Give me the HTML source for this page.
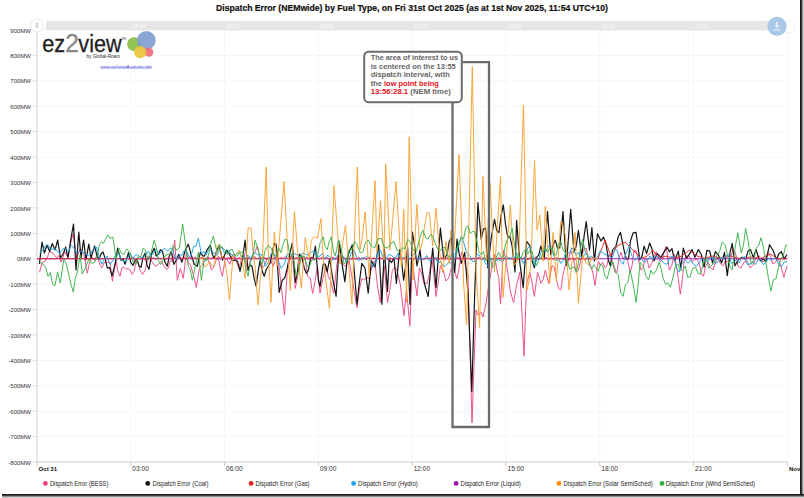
<!DOCTYPE html>
<html><head><meta charset="utf-8">
<style>
html,body{margin:0;padding:0;background:#fff;}
body{width:804px;height:498px;overflow:hidden;position:relative;font-family:"Liberation Sans",sans-serif;}
svg{position:absolute;left:0;top:0;}
text{font-family:"Liberation Sans",sans-serif;}
.yl{font-size:6.0px;fill:#333;}
.xl{font-size:6.6px;fill:#333;}
.xlb{font-size:6.1px;fill:#111;font-weight:bold;}
.ttl{font-size:8.6px;font-weight:bold;fill:#111;}
.lg{font-size:6.4px;fill:#222;}
.sb{font-size:5.5px;fill:#fafafa;}
.logo{font-size:21.7px;}
.byg{font-size:5.4px;fill:#2a2a2a;}
.lnk{font-size:4.35px;fill:#4a4adc;}
.ann{font-size:7.35px;font-weight:bold;fill:#666;}
</style></head><body>
<svg width="804" height="498" viewBox="0 0 804 498">
<rect width="804" height="498" fill="#fff"/>
<text x="216" y="11.2" class="ttl" stroke="#111" stroke-width="0.2" textLength="392" lengthAdjust="spacingAndGlyphs">Dispatch Error (NEMwide) by Fuel Type, on Fri 31st Oct 2025 (as at 1st Nov 2025, 11:54 UTC+10)</text>
<line x1="37.0" y1="462.0" x2="787.4" y2="462.0" stroke="#f7f7f7" stroke-width="1"/>
<line x1="37.0" y1="436.6" x2="787.4" y2="436.6" stroke="#f7f7f7" stroke-width="1"/>
<line x1="37.0" y1="411.2" x2="787.4" y2="411.2" stroke="#f7f7f7" stroke-width="1"/>
<line x1="37.0" y1="385.8" x2="787.4" y2="385.8" stroke="#f7f7f7" stroke-width="1"/>
<line x1="37.0" y1="360.3" x2="787.4" y2="360.3" stroke="#f7f7f7" stroke-width="1"/>
<line x1="37.0" y1="334.9" x2="787.4" y2="334.9" stroke="#f7f7f7" stroke-width="1"/>
<line x1="37.0" y1="309.5" x2="787.4" y2="309.5" stroke="#f7f7f7" stroke-width="1"/>
<line x1="37.0" y1="284.1" x2="787.4" y2="284.1" stroke="#f7f7f7" stroke-width="1"/>
<line x1="37.0" y1="258.7" x2="787.4" y2="258.7" stroke="#f7f7f7" stroke-width="1"/>
<line x1="37.0" y1="233.3" x2="787.4" y2="233.3" stroke="#f7f7f7" stroke-width="1"/>
<line x1="37.0" y1="207.9" x2="787.4" y2="207.9" stroke="#f7f7f7" stroke-width="1"/>
<line x1="37.0" y1="182.5" x2="787.4" y2="182.5" stroke="#f7f7f7" stroke-width="1"/>
<line x1="37.0" y1="157.1" x2="787.4" y2="157.1" stroke="#f7f7f7" stroke-width="1"/>
<line x1="37.0" y1="131.6" x2="787.4" y2="131.6" stroke="#f7f7f7" stroke-width="1"/>
<line x1="37.0" y1="106.2" x2="787.4" y2="106.2" stroke="#f7f7f7" stroke-width="1"/>
<line x1="37.0" y1="80.8" x2="787.4" y2="80.8" stroke="#f7f7f7" stroke-width="1"/>
<line x1="37.0" y1="55.4" x2="787.4" y2="55.4" stroke="#f7f7f7" stroke-width="1"/>
<line x1="37.0" y1="30.0" x2="787.4" y2="30.0" stroke="#f7f7f7" stroke-width="1"/>
<line x1="130.8" y1="30" x2="130.8" y2="462" stroke="#f7f7f7" stroke-width="1"/>
<line x1="224.6" y1="30" x2="224.6" y2="462" stroke="#f7f7f7" stroke-width="1"/>
<line x1="318.4" y1="30" x2="318.4" y2="462" stroke="#f7f7f7" stroke-width="1"/>
<line x1="412.2" y1="30" x2="412.2" y2="462" stroke="#f7f7f7" stroke-width="1"/>
<line x1="506.0" y1="30" x2="506.0" y2="462" stroke="#f7f7f7" stroke-width="1"/>
<line x1="599.8" y1="30" x2="599.8" y2="462" stroke="#f7f7f7" stroke-width="1"/>
<line x1="693.6" y1="30" x2="693.6" y2="462" stroke="#f7f7f7" stroke-width="1"/>
<line x1="787.4" y1="30" x2="787.4" y2="462" stroke="#f7f7f7" stroke-width="1"/>
<text x="31" y="464.6" text-anchor="end" class="yl">-800MW</text>
<line x1="32.5" y1="462.0" x2="37" y2="462.0" stroke="#ddd" stroke-width="1"/>
<text x="31" y="439.2" text-anchor="end" class="yl">-700MW</text>
<line x1="32.5" y1="436.6" x2="37" y2="436.6" stroke="#ddd" stroke-width="1"/>
<text x="31" y="413.8" text-anchor="end" class="yl">-600MW</text>
<line x1="32.5" y1="411.2" x2="37" y2="411.2" stroke="#ddd" stroke-width="1"/>
<text x="31" y="388.4" text-anchor="end" class="yl">-500MW</text>
<line x1="32.5" y1="385.8" x2="37" y2="385.8" stroke="#ddd" stroke-width="1"/>
<text x="31" y="362.9" text-anchor="end" class="yl">-400MW</text>
<line x1="32.5" y1="360.3" x2="37" y2="360.3" stroke="#ddd" stroke-width="1"/>
<text x="31" y="337.5" text-anchor="end" class="yl">-300MW</text>
<line x1="32.5" y1="334.9" x2="37" y2="334.9" stroke="#ddd" stroke-width="1"/>
<text x="31" y="312.1" text-anchor="end" class="yl">-200MW</text>
<line x1="32.5" y1="309.5" x2="37" y2="309.5" stroke="#ddd" stroke-width="1"/>
<text x="31" y="286.7" text-anchor="end" class="yl">-100MW</text>
<line x1="32.5" y1="284.1" x2="37" y2="284.1" stroke="#ddd" stroke-width="1"/>
<text x="31" y="261.3" text-anchor="end" class="yl">0MW</text>
<line x1="32.5" y1="258.7" x2="37" y2="258.7" stroke="#ddd" stroke-width="1"/>
<text x="31" y="235.9" text-anchor="end" class="yl">100MW</text>
<line x1="32.5" y1="233.3" x2="37" y2="233.3" stroke="#ddd" stroke-width="1"/>
<text x="31" y="210.5" text-anchor="end" class="yl">200MW</text>
<line x1="32.5" y1="207.9" x2="37" y2="207.9" stroke="#ddd" stroke-width="1"/>
<text x="31" y="185.1" text-anchor="end" class="yl">300MW</text>
<line x1="32.5" y1="182.5" x2="37" y2="182.5" stroke="#ddd" stroke-width="1"/>
<text x="31" y="159.7" text-anchor="end" class="yl">400MW</text>
<line x1="32.5" y1="157.1" x2="37" y2="157.1" stroke="#ddd" stroke-width="1"/>
<text x="31" y="134.2" text-anchor="end" class="yl">500MW</text>
<line x1="32.5" y1="131.6" x2="37" y2="131.6" stroke="#ddd" stroke-width="1"/>
<text x="31" y="108.8" text-anchor="end" class="yl">600MW</text>
<line x1="32.5" y1="106.2" x2="37" y2="106.2" stroke="#ddd" stroke-width="1"/>
<text x="31" y="83.4" text-anchor="end" class="yl">700MW</text>
<line x1="32.5" y1="80.8" x2="37" y2="80.8" stroke="#ddd" stroke-width="1"/>
<text x="31" y="58.0" text-anchor="end" class="yl">800MW</text>
<line x1="32.5" y1="55.4" x2="37" y2="55.4" stroke="#ddd" stroke-width="1"/>
<text x="31" y="32.6" text-anchor="end" class="yl">900MW</text>
<line x1="32.5" y1="30.0" x2="37" y2="30.0" stroke="#ddd" stroke-width="1"/>
<line x1="37.0" y1="30" x2="37.0" y2="462" stroke="#d8d8d8" stroke-width="1.2"/>
<line x1="37.0" y1="462" x2="787.4" y2="462" stroke="#cfcfcf" stroke-width="1.2"/>
<line x1="37.0" y1="462" x2="37.0" y2="466" stroke="#ccc" stroke-width="1"/>
<text x="38.5" y="470.6" class="xlb">Oct 31</text>
<line x1="130.8" y1="462" x2="130.8" y2="466" stroke="#ccc" stroke-width="1"/>
<text x="132.3" y="470.6" class="xl">03:00</text>
<line x1="224.6" y1="462" x2="224.6" y2="466" stroke="#ccc" stroke-width="1"/>
<text x="226.1" y="470.6" class="xl">06:00</text>
<line x1="318.4" y1="462" x2="318.4" y2="466" stroke="#ccc" stroke-width="1"/>
<text x="319.9" y="470.6" class="xl">09:00</text>
<line x1="412.2" y1="462" x2="412.2" y2="466" stroke="#ccc" stroke-width="1"/>
<text x="413.7" y="470.6" class="xl">12:00</text>
<line x1="506.0" y1="462" x2="506.0" y2="466" stroke="#ccc" stroke-width="1"/>
<text x="507.5" y="470.6" class="xl">15:00</text>
<line x1="599.8" y1="462" x2="599.8" y2="466" stroke="#ccc" stroke-width="1"/>
<text x="601.3" y="470.6" class="xl">18:00</text>
<line x1="693.6" y1="462" x2="693.6" y2="466" stroke="#ccc" stroke-width="1"/>
<text x="695.1" y="470.6" class="xl">21:00</text>
<line x1="787.4" y1="462" x2="787.4" y2="466" stroke="#ccc" stroke-width="1"/>
<text x="788.9" y="470.6" class="xlb">Nov</text>
<path d="M39.5,272.3 L42.2,262.3 L44.9,261.4 L47.1,258.2 L49.4,251.5 L53.0,253.3 L56.7,257.8 L59.0,255.6 L61.2,262.3 L64.8,251.5 L67.0,255.6 L69.3,251.5 L71.3,240.3 L73.3,233.5 L76.5,258.7 L80.1,248.8 L83.7,253.3 L87.3,273.2 L91.0,256.0 L94.6,260.5 L97.3,254.2 L99.5,264.1 L101.8,267.8 L104.5,262.1 L107.2,262.3 L110.0,262.2 L112.4,281.3 L116.0,260.2 L118.0,271.9 L120.0,276.3 L122.0,267.6 L124.0,267.3 L126.0,269.4 L128.0,268.3 L130.0,269.9 L132.0,274.3 L134.1,271.6 L136.1,260.2 L138.1,262.4 L140.1,270.3 L142.6,274.4 L145.1,270.3 L148.2,256.2 L150.2,257.9 L152.2,262.2 L155.2,266.2 L158.2,264.3 L161.2,261.3 L164.2,266.3 L166.2,269.4 L168.2,268.3 L170.2,260.5 L172.2,262.2 L174.7,240.2 L177.3,280.3 L180.3,268.3 L183.3,278.3 L186.3,252.2 L188.3,262.9 L190.3,264.3 L193.3,274.4 L196.3,287.3 L199.4,268.3 L201.9,265.6 L204.4,260.2 L206.9,257.9 L209.4,262.2 L211.4,270.0 L213.4,268.3 L215.9,260.6 L218.4,258.2 L220.4,269.3 L222.4,276.3 L225.0,260.2 L226.5,258.2 L230.0,264.3 L232.0,256.4 L234.0,254.2 L236.6,262.6 L239.1,268.3 L241.6,258.7 L244.1,253.2 L246.1,264.6 L248.1,270.3 L250.6,259.1 L253.1,254.2 L255.1,252.3 L257.1,246.2 L259.6,255.1 L262.1,268.3 L264.6,265.3 L267.2,258.2 L270.2,259.3 L273.2,266.3 L275.2,260.6 L277.2,250.2 L279.6,271.5 L282.1,294.0 L284.5,314.8 L287.2,272.3 L289.8,259.9 L292.3,254.2 L295.3,288.4 L297.8,276.0 L300.3,256.2 L302.8,256.3 L305.3,260.2 L307.7,276.3 L310.2,278.0 L312.6,293.6 L315.0,281.7 L317.4,266.3 L320.0,293.1 L323.2,277.0 L326.4,265.8 L328.4,276.9 L330.5,280.0 L333.7,293.1 L336.5,267.5 L339.3,249.7 L342.5,264.0 L345.7,266.4 L348.9,259.3 L351.6,274.9 L354.3,292.2 L357.0,307.6 L359.4,289.3 L361.8,278.6 L364.2,280.2 L366.6,277.0 L369.0,279.0 L371.9,266.5 L374.7,260.9 L377.5,286.4 L380.3,302.7 L382.3,279.8 L384.3,265.8 L387.5,302.7 L389.9,289.8 L392.3,270.6 L394.8,267.1 L397.2,270.6 L400.4,285.0 L403.9,315.7 L406.5,290.0 L409.9,326.1 L412.4,260.9 L414.7,279.8 L417.0,296.0 L419.4,267.8 L421.6,273.4 L423.8,283.3 L427.1,283.3 L429.4,274.3 L431.6,256.8 L433.8,273.8 L436.0,296.5 L438.2,282.9 L440.4,265.6 L443.1,270.0 L445.9,281.1 L448.6,278.3 L451.4,267.8 L454.1,269.6 L456.9,278.9 L459.1,268.3 L461.4,252.4 L463.6,257.2 L465.8,267.8 L468.0,275.0 L470.0,349.4 L472.0,422.8 L474.0,365.7 L476.0,310.0 L478.3,315.5 L480.7,311.9 L483.0,317.0 L486.0,303.2 L489.0,283.3 L491.8,267.6 L494.5,254.6 L496.7,268.2 L498.9,278.9 L500.5,304.0 L503.3,250.2 L505.5,257.4 L507.7,272.3 L510.6,292.4 L513.6,302.6 L516.8,284.0 L519.9,272.3 L522.0,314.7 L524.0,356.2 L526.6,283.3 L529.9,272.3 L532.1,282.5 L534.3,296.5 L537.6,272.3 L540.9,283.3 L543.1,279.8 L545.3,270.0 L548.6,283.3 L552.0,265.6 L554.2,267.3 L556.4,278.9 L558.6,288.6 L560.8,290.0 L563.0,274.5 L565.2,265.6 L568.0,262.3 L570.7,250.0 L573.5,259.0 L576.2,272.3 L578.4,269.9 L580.6,261.2 L583.4,249.8 L586.2,248.0 L588.4,260.2 L590.6,265.6 L592.8,272.6 L595.0,285.5 L598.3,261.2 L600.5,265.7 L602.7,262.3 L604.9,267.8 L607.0,265.8 L609.0,254.2 L611.0,257.9 L613.0,264.2 L615.0,272.4 L617.0,272.2 L619.0,257.9 L621.0,252.2 L623.0,258.8 L625.1,256.2 L627.6,260.2 L630.1,272.2 L632.1,265.5 L634.1,250.2 L636.1,251.0 L638.1,258.2 L641.1,270.2 L643.2,267.6 L645.2,258.2 L647.2,260.4 L649.2,268.2 L651.7,263.7 L654.2,256.2 L656.2,251.7 L658.2,256.2 L660.2,261.6 L662.2,260.2 L664.2,251.2 L666.2,246.1 L669.3,270.2 L671.8,265.3 L674.3,254.2 L677.3,271.2 L680.3,294.3 L682.3,279.8 L684.3,260.2 L686.8,255.7 L689.3,256.2 L691.8,261.5 L694.4,260.2 L696.9,258.6 L699.4,264.2 L701.4,273.8 L703.4,276.3 L705.7,266.2 L708.0,262.0 L710.5,267.4 L713.0,270.0 L715.5,261.9 L718.0,258.0 L720.5,263.9 L723.0,266.0 L725.5,260.6 L728.0,262.0 L730.5,259.8 L733.0,248.6 L735.5,253.1 L738.0,266.0 L741.0,268.2 L744.0,262.0 L747.0,260.7 L750.0,268.0 L753.0,265.2 L756.0,258.0 L759.0,255.6 L762.0,262.0 L765.0,260.8 L768.0,252.0 L770.5,256.4 L773.0,264.0 L775.5,262.3 L778.0,258.0 L781.0,266.3 L783.9,277.3 L787.0,266.0" fill="none" stroke="#ee4a86" stroke-width="0.95" stroke-linejoin="round"/>
<path d="M39.4,264.0 L42.0,242.0 L44.4,253.0 L47.0,245.0 L49.7,251.5 L52.3,243.5 L55.0,250.0 L57.7,240.0 L60.5,258.0 L63.1,254.0 L65.7,247.0 L68.0,258.0 L70.8,239.4 L73.5,224.0 L76.0,270.0 L78.8,232.0 L81.0,258.0 L83.6,240.0 L86.0,260.0 L88.8,244.0 L91.0,258.0 L94.6,246.0 L97.0,256.0 L99.0,259.4 L101.0,254.0 L103.0,252.0 L105.0,258.0 L107.3,267.8 L109.7,267.6 L112.0,276.0 L114.8,265.6 L117.6,248.2 L121.0,260.2 L123.0,258.7 L125.0,264.3 L128.5,252.6 L130.8,262.4 L133.0,265.3 L135.0,260.4 L137.0,259.2 L139.0,266.1 L141.0,267.3 L143.0,257.5 L145.0,253.2 L147.0,265.2 L149.0,269.3 L151.6,253.8 L154.2,248.2 L156.2,256.0 L158.2,254.2 L160.4,249.7 L162.6,251.8 L164.9,262.0 L167.2,266.3 L169.2,256.5 L171.2,251.2 L173.9,264.3 L176.3,260.2 L178.7,254.2 L181.9,262.2 L185.3,250.2 L188.3,244.2 L191.3,255.2 L194.3,264.3 L197.3,266.3 L200.4,252.2 L202.4,255.6 L204.4,256.2 L207.4,249.3 L210.4,245.2 L212.4,254.7 L214.4,258.2 L216.9,249.8 L219.4,246.2 L222.4,260.2 L225.0,254.2 L226.5,250.2 L230.0,255.2 L232.5,260.4 L235.0,260.2 L237.5,261.2 L240.0,271.3 L242.6,259.0 L245.1,240.2 L248.1,270.3 L250.1,264.9 L252.1,266.3 L254.1,278.4 L256.1,286.3 L258.1,271.9 L260.1,260.2 L262.1,270.7 L264.2,276.3 L266.2,269.5 L268.2,266.3 L270.2,262.9 L272.2,253.2 L274.2,243.7 L276.2,244.2 L279.2,292.4 L282.2,280.3 L284.7,278.1 L287.2,268.3 L289.8,253.8 L292.3,243.2 L295.3,282.3 L297.3,272.9 L299.3,254.2 L301.8,257.0 L304.3,268.3 L306.3,273.3 L308.3,270.3 L310.7,257.6 L313.0,258.3 L315.4,246.2 L318.4,280.3 L320.0,286.7 L323.2,264.2 L325.2,264.0 L327.2,272.2 L329.6,258.5 L333.0,280.0 L336.1,296.3 L339.3,241.6 L342.1,264.3 L344.9,281.8 L346.9,262.4 L348.9,252.9 L352.2,244.9 L354.6,275.4 L357.0,304.3 L359.4,282.0 L361.8,263.4 L365.0,268.0 L368.2,293.1 L371.4,260.9 L375.0,267.0 L378.7,244.9 L381.9,304.3 L384.3,248.1 L387.5,291.5 L389.1,259.3 L391.6,262.6 L394.0,257.7 L396.4,283.4 L399.6,249.7 L401.6,261.0 L403.6,280.2 L405.6,266.7 L407.6,247.3 L410.0,304.3 L412.4,232.0 L414.7,245.8 L417.0,266.0 L420.0,250.0 L422.4,270.8 L424.9,285.5 L428.2,296.5 L430.4,271.5 L432.7,248.0 L436.0,287.7 L438.2,258.4 L440.4,228.1 L443.7,259.0 L447.1,254.6 L449.2,241.4 L451.4,237.0 L454.7,272.3 L457.0,239.2 L459.2,253.9 L461.4,263.4 L464.7,252.4 L468.0,293.5 L471.8,391.4 L474.5,300.0 L477.9,202.7 L481.2,239.2 L483.4,229.1 L485.6,228.1 L487.8,267.8 L491.2,238.0 L494.5,219.3 L496.7,230.5 L498.9,232.5 L501.1,215.7 L503.3,204.9 L505.5,224.3 L507.7,237.0 L509.9,236.7 L512.1,245.8 L515.0,272.0 L516.6,220.4 L519.9,263.4 L523.2,287.7 L526.6,241.4 L529.9,245.8 L532.1,260.8 L534.3,267.8 L536.5,257.4 L538.7,255.2 L540.9,245.8 L544.2,259.0 L547.5,211.6 L550.8,254.6 L553.0,245.0 L555.3,240.3 L557.5,248.0 L559.7,248.0 L563.0,211.6 L566.3,265.6 L568.5,237.2 L570.7,209.3 L574.0,252.4 L576.2,246.0 L578.4,230.3 L581.7,256.8 L584.0,236.9 L586.2,221.5 L589.5,250.2 L591.9,227.5 L594.4,261.0 L597.5,233.7 L601.0,241.0 L603.5,237.0 L606.2,244.9 L608.4,260.1 L610.5,266.0 L612.4,250.5 L616.0,246.0 L618.2,236.8 L620.5,232.4 L624.0,250.0 L626.3,259.1 L628.6,258.6 L630.4,241.0 L633.2,232.8 L636.0,232.4 L639.8,259.8 L642.0,256.1 L644.1,246.1 L646.6,253.6 L649.7,243.0 L651.9,248.8 L654.0,261.0 L657.2,253.6 L660.9,257.3 L664.6,251.1 L667.1,247.4 L669.5,251.7 L672.0,248.6 L674.6,261.0 L678.3,251.1 L680.8,268.5 L683.3,248.0 L686.4,258.6 L690.0,253.1 L692.1,249.6 L694.9,257.3 L698.4,249.6 L701.3,254.5 L704.1,267.2 L706.9,250.3 L709.7,251.0 L712.5,263.0 L715.3,251.7 L718.1,254.5 L721.6,263.0 L724.5,252.4 L727.3,275.6 L730.1,252.4 L732.2,243.3 L735.0,265.8 L738.5,259.5 L742.0,257.3 L745.6,259.5 L748.0,251.1 L750.5,249.6 L753.3,257.3 L756.1,249.6 L758.9,258.8 L761.0,261.2 L763.1,258.8 L766.0,261.6 L769.5,244.7 L773.0,250.3 L776.5,259.5 L779.0,253.6 L781.4,251.7 L784.2,258.8 L787.0,254.5" fill="none" stroke="#151515" stroke-width="1.2" stroke-linejoin="round"/>
<path d="M37.0,258.7 L787.4,258.7" fill="none" stroke="#9a1fb0" stroke-width="1.1" stroke-linejoin="round"/>
<path d="M37.0,258.7 L39.6,258.8 L42.2,258.6 L44.8,258.8 L47.3,258.6 L49.9,258.8 L52.5,258.6 L55.1,258.8 L57.7,258.5 L60.2,258.8 L62.8,258.6 L65.4,258.9 L68.0,258.6 L70.6,258.9 L73.2,258.6 L75.8,258.8 L78.3,258.6 L80.9,258.8 L83.5,258.5 L86.1,258.8 L88.7,258.5 L91.2,258.9 L93.8,258.6 L96.4,258.9 L99.0,258.6 L101.6,258.8 L104.2,258.6 L106.8,258.9 L109.3,258.6 L111.9,258.9 L114.5,258.5 L117.1,258.9 L119.7,258.5 L122.2,258.8 L124.8,258.5 L127.4,258.8 L130.0,258.7 L132.6,257.2 L135.2,260.1 L137.8,258.1 L140.4,259.2 L143.0,257.9 L145.6,260.1 L148.1,257.6 L150.7,259.6 L153.3,257.7 L155.9,259.4 L158.5,257.6 L161.1,259.2 L163.7,257.3 L166.3,259.4 L168.9,256.8 L171.5,259.5 L174.1,256.7 L176.7,259.7 L179.3,256.6 L181.9,259.4 L184.4,257.6 L187.0,259.6 L189.6,256.5 L192.2,259.6 L194.8,257.0 L197.4,259.3 L200.0,258.0 L202.6,257.4 L205.2,259.4 L207.8,256.9 L210.4,258.8 L213.0,257.5 L215.6,259.5 L218.2,256.4 L220.8,258.5 L223.4,256.7 L226.0,258.9 L228.6,257.5 L231.2,258.8 L233.8,256.7 L236.4,259.5 L239.0,257.6 L241.6,259.2 L244.2,257.6 L246.8,259.3 L249.4,257.3 L252.0,259.5 L254.6,256.5 L257.2,259.1 L259.8,256.5 L262.4,258.9 L265.0,257.6 L267.6,259.2 L270.2,257.7 L272.8,258.8 L275.4,257.2 L278.0,259.3 L280.6,257.6 L283.2,258.6 L285.8,256.7 L288.4,258.9 L291.0,256.6 L293.6,259.6 L296.2,257.3 L298.8,259.1 L301.5,257.2 L304.1,259.4 L306.7,257.1 L309.3,259.3 L311.9,257.1 L314.5,259.7 L317.1,257.2 L319.7,259.1 L322.3,257.0 L324.9,258.9 L327.5,257.5 L330.1,259.8 L332.7,257.2 L335.3,259.3 L337.9,257.8 L340.5,259.1 L343.1,257.2 L345.7,258.7 L348.3,257.1 L350.9,259.4 L353.5,257.8 L356.1,259.4 L358.7,257.3 L361.3,259.5 L363.9,257.5 L366.5,259.5 L369.1,257.0 L371.7,258.7 L374.3,257.8 L376.9,259.5 L379.5,256.8 L382.1,259.0 L384.7,257.4 L387.3,259.4 L389.9,257.5 L392.5,259.2 L395.1,257.6 L397.7,259.2 L400.3,257.2 L402.9,259.1 L405.5,257.5 L408.1,259.7 L410.7,257.9 L413.3,259.5 L415.9,257.1 L418.5,259.2 L421.1,257.7 L423.7,259.8 L426.3,257.7 L428.9,259.0 L431.5,257.5 L434.1,259.6 L436.7,257.9 L439.3,259.2 L441.9,257.6 L444.5,259.8 L447.1,257.5 L449.7,259.9 L452.3,257.8 L454.9,259.3 L457.5,257.3 L460.1,259.9 L462.7,257.5 L465.3,259.1 L467.9,257.9 L470.5,259.5 L473.1,257.9 L475.7,259.9 L478.3,257.1 L480.9,259.1 L483.5,257.8 L486.1,259.9 L488.7,257.3 L491.3,259.9 L493.9,257.7 L496.5,259.1 L499.2,257.8 L501.8,259.9 L504.4,257.8 L507.0,259.4 L509.6,257.6 L512.2,259.5 L514.8,257.7 L517.4,260.1 L520.0,258.0 L522.6,259.0 L525.2,257.0 L527.8,260.0 L530.4,257.0 L533.0,259.5 L535.6,257.1 L538.2,260.1 L540.8,257.9 L543.4,259.9 L546.0,257.2 L548.6,259.8 L551.2,257.6 L553.8,259.4 L556.4,257.8 L559.0,259.3 L561.6,258.2 L564.2,259.7 L566.8,257.9 L569.4,260.0 L572.0,258.2 L574.6,260.1 L577.2,257.4 L579.8,260.2 L582.4,257.2 L585.0,260.2 L587.6,257.6 L590.2,259.1 L592.8,257.4 L595.4,259.3 L598.0,258.7 L600.3,252.4 L602.7,246.4 L605.0,240.1 L608.0,248.0 L611.0,256.2 L614.0,251.3 L617.0,246.1 L619.7,244.6 L622.4,243.6 L625.1,242.1 L628.1,245.0 L631.1,248.2 L633.1,250.3 L635.1,252.2 L638.1,255.0 L641.1,258.2 L644.2,257.3 L647.2,256.2 L650.2,253.0 L653.2,250.2 L655.7,254.3 L658.2,258.2 L660.5,257.5 L662.9,257.0 L665.2,256.2 L667.9,256.7 L670.6,257.6 L673.3,258.2 L676.0,257.4 L678.6,257.1 L681.3,256.2 L684.0,254.0 L686.6,252.4 L689.3,250.2 L692.0,252.1 L694.7,254.3 L697.4,256.2 L699.9,256.7 L702.5,257.6 L705.0,258.2 L707.7,257.4 L710.3,256.8 L713.0,256.0 L715.7,256.8 L718.3,257.9 L721.0,258.7 L724.0,257.7 L727.0,257.1 L730.0,256.0 L732.5,256.6 L735.0,257.4 L737.5,258.0 L740.0,258.7 L742.5,258.3 L745.0,257.8 L747.5,257.6 L750.0,257.0 L752.5,257.2 L755.0,257.9 L757.5,258.1 L760.0,258.7 L762.5,257.6 L765.0,256.3 L767.5,255.3 L770.0,254.0 L772.7,255.4 L775.3,257.3 L778.0,258.7 L781.0,258.6 L784.0,258.8 L787.0,258.7" fill="none" stroke="#e52525" stroke-width="0.95" stroke-linejoin="round"/>
<path d="M39.5,253.3 L42.6,250.7 L45.8,245.2 L48.2,245.3 L50.6,249.5 L53.0,248.8 L55.4,248.7 L57.9,252.2 L60.3,252.4 L63.0,248.7 L65.7,248.8 L68.4,251.8 L71.1,245.2 L73.8,247.9 L76.5,252.6 L79.2,251.5 L82.3,251.4 L85.5,254.2 L88.2,256.0 L91.0,253.3 L93.7,248.5 L96.4,247.0 L99.1,256.9 L101.8,264.2 L104.5,258.9 L107.2,256.0 L110.0,264.3 L113.0,260.7 L116.0,254.2 L119.0,253.9 L122.0,260.2 L125.0,261.8 L128.0,257.2 L130.4,253.5 L132.7,258.8 L135.1,255.2 L137.6,254.8 L140.1,257.2 L143.1,257.4 L146.1,254.2 L148.5,251.3 L150.8,256.3 L153.2,253.2 L156.2,249.1 L159.2,254.4 L162.2,250.2 L164.9,248.4 L167.5,251.3 L170.2,248.2 L172.6,249.2 L174.9,257.7 L177.3,259.2 L179.6,254.9 L182.0,255.3 L184.3,250.2 L186.6,250.8 L189.0,256.9 L191.3,255.2 L193.7,246.4 L196.0,246.2 L198.4,238.2 L201.4,254.2 L203.7,251.2 L206.1,254.8 L208.4,250.2 L211.4,249.8 L214.4,254.2 L216.9,255.4 L219.4,250.2 L221.8,247.1 L224.1,252.4 L226.5,250.2 L228.8,250.2 L231.0,254.2 L234.0,256.1 L237.0,253.2 L239.7,252.9 L242.4,257.8 L245.1,258.2 L247.8,255.2 L250.4,258.5 L253.1,254.2 L255.8,253.2 L258.4,255.2 L261.1,254.2 L263.1,257.7 L265.2,266.3 L267.9,263.2 L270.5,254.6 L273.2,252.2 L275.9,259.7 L278.5,261.2 L281.2,268.3 L284.2,264.7 L287.2,254.2 L289.7,253.1 L292.2,256.7 L294.8,253.5 L297.3,255.2 L300.0,257.4 L302.6,252.9 L305.3,254.2 L308.3,255.0 L311.3,252.2 L314.2,250.7 L317.1,256.5 L320.0,256.1 L322.4,253.5 L324.8,258.8 L327.2,255.3 L330.0,256.6 L332.9,260.1 L336.1,257.5 L339.3,252.9 L342.5,255.4 L345.7,260.9 L348.7,260.6 L351.6,252.0 L354.6,251.3 L356.6,257.6 L358.6,260.9 L361.3,257.6 L363.9,259.0 L366.6,256.1 L369.8,259.7 L373.0,267.4 L375.4,262.5 L377.9,252.9 L380.3,249.7 L383.1,257.7 L385.9,259.3 L389.1,254.3 L392.3,256.1 L395.1,259.3 L398.0,253.5 L400.8,258.2 L403.6,257.7 L406.5,255.3 L409.5,259.5 L412.4,255.3 L414.9,253.2 L417.5,258.9 L420.0,257.7 L423.8,259.0 L426.8,255.6 L429.7,261.5 L432.7,259.0 L435.3,257.3 L438.0,263.3 L440.6,261.6 L443.3,266.3 L445.9,265.6 L448.8,262.2 L451.8,263.1 L454.7,259.0 L456.9,247.9 L459.2,245.3 L461.4,235.8 L463.6,242.1 L465.8,250.2 L468.0,254.9 L470.2,256.2 L472.4,261.2 L474.6,261.9 L476.8,255.0 L479.0,254.6 L481.2,259.2 L483.4,259.3 L485.6,263.4 L487.8,265.4 L490.1,258.5 L492.3,259.0 L495.2,261.2 L498.2,259.4 L501.1,261.2 L503.3,260.8 L505.5,256.9 L507.7,256.8 L510.1,259.9 L512.6,256.3 L515.0,258.0 L516.6,252.4 L518.8,257.0 L521.0,257.6 L523.2,263.4 L525.4,259.1 L527.7,248.2 L529.9,245.8 L532.1,256.9 L534.3,265.6 L536.5,258.9 L538.7,259.7 L540.9,252.4 L543.5,248.3 L546.0,251.5 L548.6,245.8 L551.4,249.2 L554.2,256.8 L556.4,260.5 L558.6,259.2 L560.8,263.4 L563.0,260.7 L565.2,254.1 L567.4,252.4 L569.6,253.2 L571.8,247.7 L574.0,250.2 L576.2,255.5 L578.4,252.4 L580.6,256.8 L582.8,257.0 L585.1,253.8 L587.3,254.6 L589.5,257.6 L591.7,256.1 L593.9,259.0 L596.8,258.3 L599.8,251.4 L602.7,252.4 L605.1,255.1 L607.6,254.3 L610.0,256.8 L612.3,257.9 L614.7,250.0 L617.0,250.2 L620.0,260.7 L623.1,264.2 L626.1,253.2 L629.1,246.1 L632.1,256.4 L635.1,260.2 L638.1,256.6 L641.1,258.2 L644.2,262.2 L647.2,260.2 L649.9,256.0 L652.5,259.7 L655.2,256.2 L658.2,257.1 L661.2,260.2 L664.2,263.6 L667.2,264.2 L670.2,257.0 L673.3,256.2 L676.3,267.4 L679.3,272.2 L682.3,262.9 L685.3,260.2 L688.0,263.3 L690.7,260.3 L693.4,264.2 L696.4,266.2 L699.4,262.2 L702.2,258.5 L705.0,260.0 L707.5,262.0 L710.0,258.0 L712.7,257.1 L715.3,263.3 L718.0,262.0 L720.7,257.3 L723.3,259.6 L726.0,256.0 L728.7,254.7 L731.3,263.4 L734.0,262.0 L736.7,259.6 L739.3,262.8 L742.0,258.0 L744.7,256.6 L747.3,264.6 L750.0,264.0 L752.7,261.7 L755.3,264.6 L758.0,260.0 L760.7,259.5 L763.3,264.8 L766.0,262.0 L768.7,258.0 L771.3,260.4 L774.0,258.0 L776.7,259.4 L779.3,265.9 L782.0,266.0 L784.5,261.6 L787.0,262.0" fill="none" stroke="#1fa3e3" stroke-width="0.95" stroke-linejoin="round"/>
<path d="M199.0,258.7 L202.4,258.2 L204.4,266.6 L206.4,266.3 L209.4,261.5 L212.4,266.3 L214.7,264.0 L217.1,245.8 L219.4,244.2 L221.9,257.0 L224.5,260.2 L227.0,274.4 L229.5,299.9 L233.0,256.2 L236.1,254.8 L239.1,250.2 L242.1,260.7 L245.1,278.3 L248.1,228.1 L251.1,228.1 L253.1,252.9 L255.1,266.3 L258.0,304.8 L260.1,281.1 L262.1,266.3 L264.1,217.4 L266.2,167.0 L268.2,250.2 L271.0,302.3 L274.3,232.0 L277.2,266.3 L279.5,237.8 L281.7,210.3 L284.0,181.6 L287.2,240.2 L290.3,290.4 L292.4,250.7 L294.4,211.6 L296.4,236.4 L298.3,260.2 L301.3,288.4 L303.3,262.5 L305.3,237.6 L307.3,249.5 L309.3,258.2 L311.3,240.2 L314.4,236.7 L317.4,238.2 L321.0,218.5 L323.4,260.2 L326.4,284.8 L329.5,308.6 L331.8,246.4 L334.0,185.7 L337.0,225.5 L340.0,264.0 L342.8,242.3 L345.5,225.0 L348.7,265.0 L351.9,303.6 L354.6,235.0 L357.3,167.0 L360.0,250.0 L362.6,235.3 L365.2,212.0 L367.2,243.9 L369.2,276.3 L372.1,228.7 L375.0,180.7 L377.0,252.0 L380.5,200.7 L384.0,260.0 L385.7,163.8 L387.9,206.2 L390.0,250.0 L393.0,216.1 L396.0,181.6 L398.6,223.6 L401.3,266.3 L403.7,209.3 L406.6,302.3 L409.2,136.8 L413.0,280.0 L416.8,204.4 L420.0,250.0 L422.4,242.8 L424.9,223.7 L427.1,212.8 L429.3,212.7 L432.7,245.8 L436.0,208.2 L439.3,250.2 L442.6,272.3 L445.9,241.4 L449.2,263.4 L451.0,230.0 L454.0,250.0 L456.5,202.7 L459.0,154.6 L461.3,218.2 L463.6,283.3 L466.6,324.8 L469.5,196.2 L472.3,66.5 L476.0,270.0 L479.6,327.4 L483.0,176.5 L486.5,260.0 L490.0,183.0 L492.2,226.9 L494.5,272.0 L497.5,224.6 L500.5,176.5 L503.0,297.4 L506.0,262.0 L508.2,232.7 L510.4,205.0 L514.0,265.0 L516.5,262.1 L519.0,250.0 L521.2,176.7 L523.5,105.0 L527.0,290.0 L529.0,281.1 L531.0,261.2 L534.5,160.6 L537.0,230.0 L539.8,214.9 L543.1,261.2 L545.3,206.0 L547.5,244.3 L549.7,283.3 L553.0,232.5 L556.4,281.1 L558.6,251.7 L560.8,221.5 L563.0,225.9 L565.2,234.7 L569.0,290.0 L572.0,261.5 L575.1,232.5 L578.4,303.2 L580.6,278.7 L582.8,254.6 L585.9,262.7 L589.0,265.0 L592.0,257.6 L595.0,258.7 L598.0,258.7" fill="none" stroke="#f8a133" stroke-width="0.95" stroke-linejoin="round"/>
<path d="M39.5,262.3 L43.0,264.0 L45.8,267.8 L48.1,276.5 L50.3,272.5 L52.6,284.4 L54.9,285.8 L57.6,272.0 L60.3,283.0 L63.9,258.7 L66.2,263.6 L68.4,273.0 L70.8,283.8 L73.3,292.0 L75.3,278.3 L77.4,272.0 L80.1,255.0 L82.3,274.0 L85.5,267.8 L89.0,258.7 L91.8,263.5 L94.6,262.3 L97.3,256.0 L99.3,244.7 L101.4,241.6 L103.4,243.3 L105.4,239.8 L107.7,234.9 L110.0,238.2 L113.0,237.2 L116.0,259.2 L119.0,248.2 L121.5,253.5 L124.0,254.2 L127.0,248.9 L130.0,252.2 L133.1,262.2 L136.1,264.3 L138.4,256.1 L140.8,256.8 L143.1,248.2 L145.6,250.4 L148.2,260.2 L151.2,252.2 L154.2,240.2 L156.2,246.9 L158.2,260.2 L160.7,264.5 L163.2,260.2 L165.7,255.0 L168.2,254.2 L170.8,254.0 L173.3,245.2 L176.3,250.2 L179.3,248.2 L182.7,224.1 L185.9,247.2 L188.3,266.3 L190.3,269.5 L192.3,280.3 L195.3,266.3 L198.4,252.2 L201.4,280.3 L204.4,258.2 L206.4,261.1 L208.4,255.2 L210.9,243.1 L213.4,236.1 L215.4,245.7 L217.4,252.2 L219.4,244.9 L221.4,246.2 L225.0,250.2 L227.5,254.5 L230.0,250.2 L232.3,249.3 L234.7,255.8 L237.0,256.2 L240.1,252.2 L243.1,252.2 L245.6,267.9 L248.1,276.3 L250.4,261.9 L252.8,257.1 L255.1,240.2 L258.1,248.8 L261.1,264.3 L263.1,259.3 L265.2,250.2 L268.2,245.5 L271.2,248.2 L273.7,254.8 L276.2,256.2 L278.5,247.5 L280.9,252.9 L283.2,244.2 L285.2,239.0 L287.2,240.2 L289.2,250.9 L291.3,254.2 L293.8,261.4 L296.3,276.3 L298.8,270.5 L301.3,256.2 L304.3,256.3 L307.3,266.3 L309.7,265.6 L312.0,259.6 L314.4,260.2 L317.3,255.9 L320.3,242.2 L323.2,236.8 L325.2,246.7 L327.2,249.7 L329.2,241.7 L331.3,236.8 L333.3,251.0 L335.3,256.1 L338.5,240.0 L341.2,248.8 L344.0,264.0 L346.6,260.1 L349.3,249.1 L352.0,249.6 L354.6,241.6 L357.4,245.3 L360.2,252.9 L362.9,251.7 L365.5,242.5 L368.2,240.0 L371.4,246.1 L374.7,248.1 L377.9,238.8 L381.1,238.4 L384.3,247.1 L387.5,248.1 L390.8,243.6 L394.0,241.6 L397.2,250.6 L400.4,251.3 L402.8,247.6 L405.2,248.9 L407.6,239.4 L410.0,241.6 L413.2,250.0 L416.5,251.3 L419.6,238.4 L422.7,230.3 L426.0,238.0 L428.2,239.0 L430.5,234.7 L432.7,235.9 L434.9,242.5 L438.2,250.2 L440.4,250.8 L442.6,248.0 L445.4,247.4 L448.1,256.8 L450.3,257.5 L452.5,252.5 L454.7,254.6 L456.9,253.1 L459.2,240.8 L461.4,238.0 L463.6,238.9 L465.8,227.8 L468.0,225.9 L470.2,233.6 L472.4,231.4 L474.6,231.8 L476.8,241.4 L479.0,251.8 L481.2,254.6 L483.4,251.5 L485.6,260.5 L487.8,259.0 L490.0,256.8 L492.3,267.6 L494.5,265.6 L496.7,255.8 L498.9,252.4 L501.1,257.6 L503.3,256.8 L505.5,244.1 L507.7,239.2 L509.9,236.4 L512.1,228.1 L515.0,248.0 L516.6,259.0 L518.8,255.2 L521.0,258.6 L523.2,252.4 L525.4,249.4 L527.7,254.0 L529.9,250.2 L532.1,251.1 L534.3,262.4 L536.5,265.6 L538.7,259.9 L540.9,258.5 L543.1,252.4 L545.3,247.5 L547.5,252.1 L549.7,248.0 L551.9,248.0 L554.2,255.3 L556.4,254.6 L558.6,243.3 L560.8,241.4 L563.0,250.2 L565.2,251.8 L567.4,261.2 L569.6,269.0 L571.8,267.8 L574.0,266.5 L576.2,272.3 L578.4,263.5 L580.6,247.2 L582.8,239.2 L585.0,251.0 L587.3,255.0 L589.5,265.6 L591.7,269.0 L593.9,264.7 L596.1,267.8 L598.3,271.3 L600.5,263.9 L602.7,265.6 L604.9,276.0 L607.1,278.9 L610.0,267.8 L613.0,262.2 L616.0,272.2 L618.4,275.3 L620.7,293.0 L623.1,296.3 L625.4,284.9 L627.8,282.4 L630.1,270.2 L633.1,283.8 L636.1,302.4 L638.1,285.0 L640.1,262.2 L643.2,266.2 L646.2,276.3 L648.5,279.9 L650.9,270.2 L653.2,274.3 L656.2,270.6 L659.2,262.2 L661.2,269.0 L663.2,278.3 L665.6,284.2 L667.9,282.8 L670.3,287.3 L672.8,278.1 L675.3,266.2 L677.8,264.0 L680.3,270.2 L682.8,269.9 L685.3,266.2 L687.7,277.3 L690.0,277.0 L692.8,268.2 L695.6,267.2 L698.0,273.3 L700.5,274.2 L704.1,260.2 L706.4,257.3 L708.8,268.4 L711.1,265.8 L714.6,263.0 L717.2,254.5 L719.7,250.9 L722.3,241.9 L725.1,244.8 L728.0,257.3 L730.1,267.2 L732.2,270.0 L735.0,248.5 L737.8,232.7 L741.3,253.1 L743.5,245.0 L745.6,228.5 L748.4,242.1 L751.2,264.4 L753.7,260.8 L756.1,248.0 L758.5,246.0 L761.0,237.7 L763.5,247.7 L766.0,263.0 L768.5,278.8 L770.9,291.1 L773.5,279.5 L776.0,278.7 L778.6,267.2 L780.9,258.1 L783.3,256.3 L785.6,245.4 L787.2,245.0" fill="none" stroke="#3cb24a" stroke-width="0.95" stroke-linejoin="round"/>
<path d="M462.8,62.2 H489 V427 H452.5 V103" fill="none" stroke="#6b6b6b" stroke-width="2.3"/>
<rect x="364.2" y="51.7" width="97.6" height="50.5" rx="4.5" ry="4.5" fill="#fff" stroke="#6b6b6b" stroke-width="2"/>
<text class="ann" x="370.7" y="59.9" textLength="87.3" lengthAdjust="spacingAndGlyphs">The area of interest to us</text>
<text class="ann" x="370.7" y="68.5" textLength="85" lengthAdjust="spacingAndGlyphs">is centered on the 13:55</text>
<text class="ann" x="370.7" y="77.1" textLength="79.1" lengthAdjust="spacingAndGlyphs">dispatch interval, with</text>
<text class="ann" x="370.7" y="85.8" textLength="68.2" lengthAdjust="spacingAndGlyphs">the <tspan fill="#e8101a">low point being</tspan></text>
<text class="ann" x="370.7" y="94.4" textLength="80.1" lengthAdjust="spacingAndGlyphs"><tspan fill="#e8101a">13:56:28.1</tspan> (NEM time)</text>
<rect x="46" y="20.9" width="726" height="9.4" fill="#e6e6e6"/>
<text x="132.3" y="28" class="sb">03:00</text>
<text x="226.1" y="28" class="sb">06:00</text>
<text x="319.9" y="28" class="sb">09:00</text>
<text x="413.7" y="28" class="sb">12:00</text>
<text x="507.5" y="28" class="sb">15:00</text>
<text x="601.3" y="28" class="sb">18:00</text>
<text x="695.1" y="28" class="sb">21:00</text>
<circle cx="37" cy="25.6" r="6.3" fill="#fff" stroke="#e2e2e2" stroke-width="0.8"/>
<rect x="35.6" y="22.5" width="2.6" height="5.5" fill="#d6d6d6"/>
<circle cx="788.5" cy="27" r="6.3" fill="#fff" stroke="#ececec" stroke-width="0.8"/>
<circle cx="777" cy="26.3" r="9.6" fill="#a9c7e6"/>
<path d="M776.2,21.8 h1.6 v3.6 h1.8 l-2.6,2.8 l-2.6,-2.8 h1.8 z M773.8,29.2 h6.4 v1.2 h-6.4 z" fill="#fff" opacity="0.7"/>
<rect x="44" y="31.5" width="113" height="40.5" fill="#fff"/>
<text x="42.3" y="51.7" transform="translate(0,51.7) scale(1,1.07) translate(0,-51.7)" class="logo" stroke="#1f1f1f" stroke-width="0.3"><tspan fill="#1f1f1f">ez</tspan><tspan fill="#8a8a8a" stroke="#8a8a8a" style="font-size:24.5px">2</tspan><tspan fill="#1f1f1f" dx="-0.5">view</tspan></text>
<text x="121.5" y="40" style="font-size:3px;fill:#444">TM</text>
<text x="86.5" y="58.3" class="byg" textLength="33.5" lengthAdjust="spacingAndGlyphs">by Global-Roam</text>
<text x="100.5" y="67.6" class="lnk">www.ez2viewAustralia.info</text>
<line x1="100.5" y1="68.2" x2="151.8" y2="68.2" stroke="#5555dd" stroke-width="0.5"/>
<circle cx="134" cy="44.1" r="6.9" fill="#8cc04a" opacity="0.95"/>
<circle cx="146.3" cy="40.4" r="9.4" fill="#7e9bd0" opacity="0.9"/>
<circle cx="148.8" cy="52.2" r="4.6" fill="#ee6a78" opacity="0.9"/>
<circle cx="140.2" cy="52.2" r="6.1" fill="#eac53a" opacity="0.92"/>
<circle cx="45.4" cy="483.4" r="2.4" fill="#f0407a"/>
<text x="49.9" y="485.7" class="lg" textLength="58.5" lengthAdjust="spacingAndGlyphs">Dispatch Error (BESS)</text>
<circle cx="147.7" cy="483.4" r="2.4" fill="#111"/>
<text x="152.6" y="485.7" class="lg" textLength="55.8" lengthAdjust="spacingAndGlyphs">Dispatch Error (Coal)</text>
<circle cx="251.1" cy="483.4" r="2.4" fill="#e8231f"/>
<text x="255.4" y="485.7" class="lg" textLength="54.2" lengthAdjust="spacingAndGlyphs">Dispatch Error (Gas)</text>
<circle cx="353.6" cy="483.4" r="2.4" fill="#1ea7e8"/>
<text x="358.1" y="485.7" class="lg" textLength="59.7" lengthAdjust="spacingAndGlyphs">Dispatch Error (Hydro)</text>
<circle cx="456.1" cy="483.4" r="2.4" fill="#9b17b3"/>
<text x="460.6" y="485.7" class="lg" textLength="60.2" lengthAdjust="spacingAndGlyphs">Dispatch Error (Liquid)</text>
<circle cx="558.9" cy="483.4" r="2.4" fill="#ff8c00"/>
<text x="563.6" y="485.7" class="lg" textLength="89.1" lengthAdjust="spacingAndGlyphs">Dispatch Error (Solar SemiSched)</text>
<circle cx="662" cy="483.4" r="2.4" fill="#2faf3f"/>
<text x="665.7" y="485.7" class="lg" textLength="89.4" lengthAdjust="spacingAndGlyphs">Dispatch Error (Wind SemiSched)</text>
</svg>
<div style="position:absolute;left:800px;top:0;width:4px;height:498px;background:linear-gradient(to right,#1c1c1c 0,#1c1c1c 1.2px,#6d6d6d 2px,#b9b9b9 3px,#e6e6e6 4px)"></div>
<div style="position:absolute;left:2px;top:494px;width:802px;height:4px;background:linear-gradient(to bottom,#1c1c1c 0,#1c1c1c 1.1px,#6d6d6d 2px,#b9b9b9 3px,#e6e6e6 4px)"></div>
</body></html>
